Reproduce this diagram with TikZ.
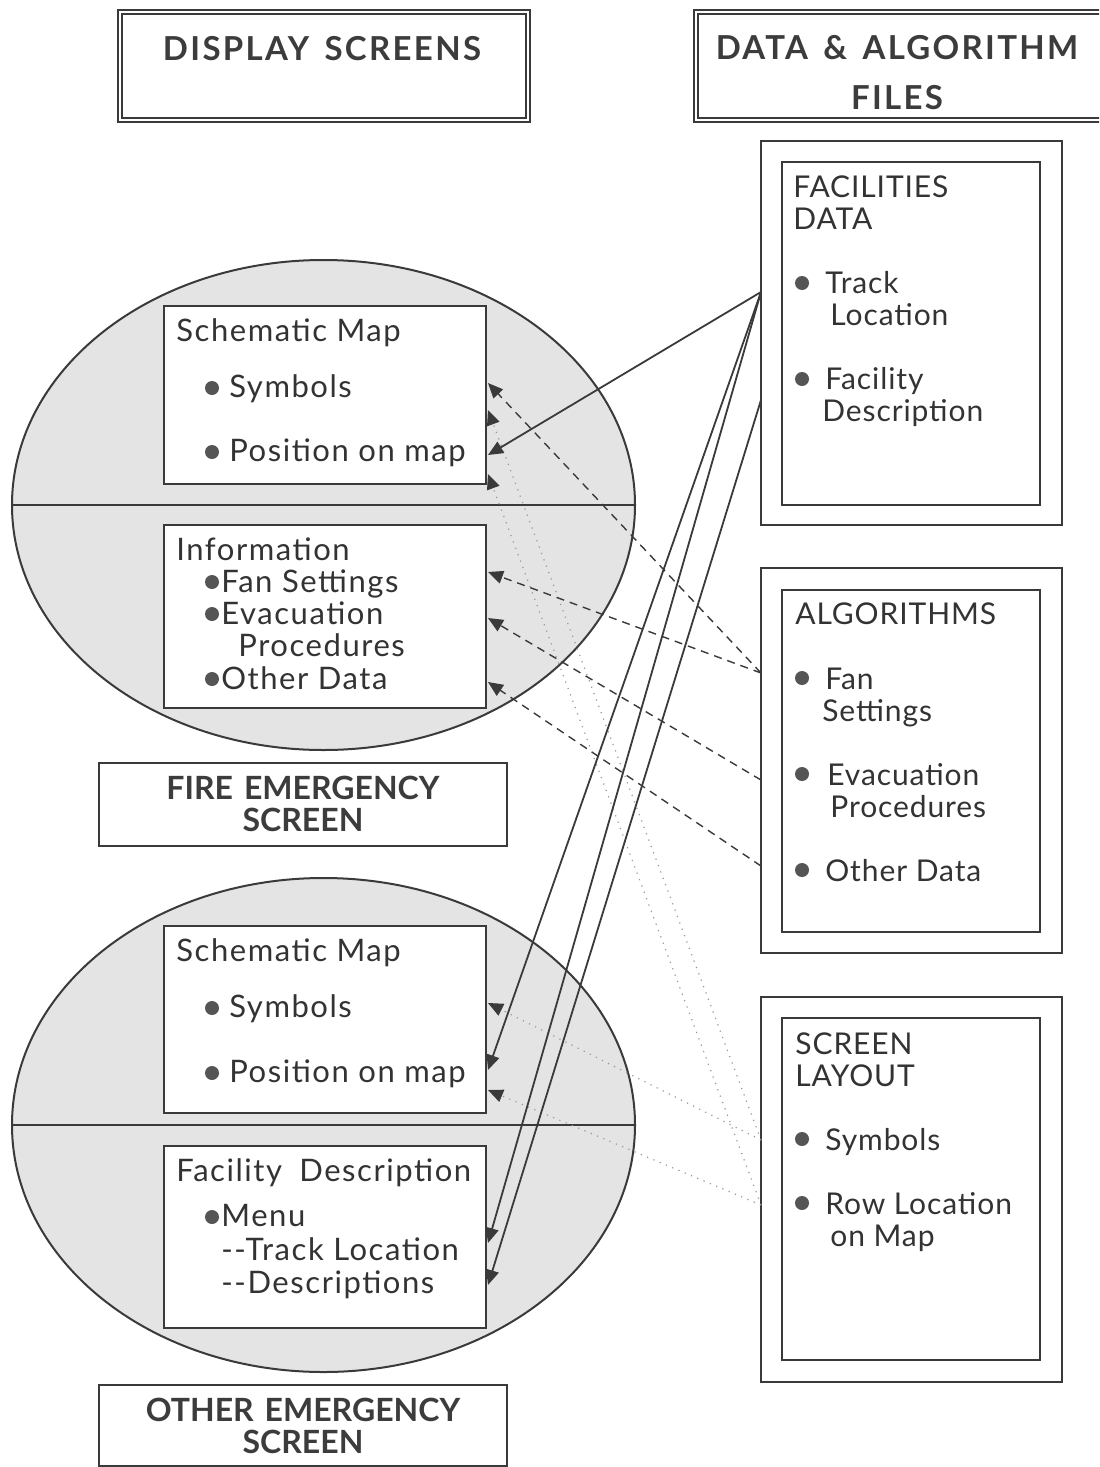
\documentclass[tikz,border=0pt]{standalone}
\usepackage{fontspec}
\setmainfont{Lato}[LetterSpace=3.0]
\newfontfamily\leftfont{Lato}[LetterSpace=5.0]
\newfontfamily\headfont{Lato}[LetterSpace=7.0]
\newfontfamily\subheadfont{Lato}[LetterSpace=0.0]
\usetikzlibrary{arrows.meta}
\definecolor{linec}{HTML}{3A3A3A}
\definecolor{textc}{HTML}{333333}
\definecolor{headc}{HTML}{3C3C3C}
\definecolor{ellf}{HTML}{E4E4E4}
\definecolor{dotc}{HTML}{999999}
\definecolor{bulc}{HTML}{555555}
\begin{document}
\begin{tikzpicture}[x=0.5pt,y=-0.5pt,
  bx/.style={draw=linec,line width=1pt},
  ibox/.style={draw=linec,line width=1pt,fill=white,rectangle,inner sep=0,minimum width=161pt},
  tx/.style={anchor=base west,inner sep=0,text=textc,font=\leftfont\fontsize{15.5}{18}\selectfont},
  rtx/.style={anchor=base west,inner sep=0,text=textc,font=\fontsize{15}{18}\selectfont},
  hd/.style={anchor=base,inner sep=0,text=headc,font=\headfont\fontsize{16.5}{18}\selectfont\bfseries},
  shd/.style={anchor=base,inner sep=0,text=headc,font=\subheadfont\fontsize{16}{18}\selectfont\bfseries},
  bul/.style={circle,fill=bulc,inner sep=0,minimum size=7pt},
  tip/.style={-{Triangle[length=7.5pt,width=6.5pt,color=linec]}},
  solidc/.style={tip,draw=linec,line width=0.9pt},
  dashc/.style={tip,draw=linec,line width=0.7pt,dash pattern=on 4pt off 3pt},
  dotc/.style={tip,draw=dotc,line width=0.6pt,dash pattern=on 0.6pt off 2.8pt}]
\useasboundingbox (0,0) rectangle (1099,1467);
\clip (0,0) rectangle (1099,1467);
\fill[white] (0,0) rectangle (1099,1467);

% header boxes
\draw[bx] (118,10) rectangle (530,122);
\draw[draw=linec,line width=0.6pt] (122,14) rectangle (526,118);
\node[hd] (hds) at (322,60) {DISPLAY\hspace{0.15em} SCREENS};
\draw[bx] (694,10) rectangle (1110,122);
\draw[draw=linec,line width=0.6pt] (698,14) rectangle (1106,118);
\node[hd] (hda1) at (897,59) {DATA\hspace{0.15em} \&\hspace{0.15em} ALGORITHM};
\node[hd] (hda2) at (897,109) {FILES};

% ellipses
\filldraw[fill=ellf,draw=linec,line width=1pt] (323.5,505) ellipse [x radius=311.5,y radius=245];
\draw[draw=linec,line width=1pt] (12,505) -- (635,505);
\filldraw[fill=ellf,draw=linec,line width=1pt] (323.5,1125) ellipse [x radius=311.5,y radius=247];
\draw[draw=linec,line width=1pt] (12,1125) -- (635,1125);

% inner boxes
\node[ibox,minimum height=89pt] (sm1) at (325,395) {};
\node[ibox,minimum height=91.5pt] (inf) at (325,616.5) {};
\node[ibox,minimum height=93.5pt] (sm2) at (325,1019.5) {};
\node[ibox,minimum height=91pt] (fdb) at (325,1237) {};

% upper schematic map
\node[tx] (t1) at (176,341) {Schematic Map};
\node[bul] (b1) at (212,388) {};
\node[tx] (t2) at (229,397) {Symbols};
\node[bul] (b2) at (212,452) {};
\node[tx] (t3) at (229,461) {Position on map};
% information
\node[tx] (t4) at (176,560) {Information};
\node[bul] (b3) at (212,582) {};
\node[tx] (t5) at (221,592) {Fan Settings};
\node[bul] (b4) at (212,614) {};
\node[tx] (t6) at (221,624) {Evacuation};
\node[tx] (t7) at (238,656) {Procedures};
\node[bul] (b5) at (212,679) {};
\node[tx] (t8) at (221,689) {Other Data};

% fire emergency
\draw[bx] (99,763) rectangle (507,846);
\node[shd] (fe1) at (303,799) {FIRE\hspace{0.1em} EMERGENCY};
\node[shd] (fe2) at (303,831) {SCREEN};

% lower schematic map
\node[tx] (t9) at (176,961) {Schematic Map};
\node[bul] (b6) at (212,1008) {};
\node[tx] (t10) at (229,1017) {Symbols};
\node[bul] (b7) at (212,1073) {};
\node[tx] (t11) at (229,1082) {Position on map};
% facility description
\node[tx] (t12) at (176,1181) {Facility\hspace{0.25em} Description};
\node[bul] (b8) at (212,1217) {};
\node[tx] (t13) at (221,1226) {Menu};
\node[tx] (t14) at (221,1260) {-{}-Track Location};
\node[tx] (t15) at (221,1293) {-{}-Descriptions};

% other emergency
\draw[bx] (99,1385) rectangle (507,1466);
\node[shd] (oe1) at (303,1421) {OTHER\hspace{0.1em} EMERGENCY};
\node[shd] (oe2) at (303,1453) {SCREEN};

% right boxes
\draw[bx] (761,141) rectangle (1062,525);
\draw[draw=linec,line width=0.8pt] (782,162) rectangle (1040,505);
\node[rtx] (r1) at (793,197) {FACILITIES};
\node[rtx] (r2) at (793,229) {DATA};
\node[bul] (rb1) at (802,283) {};
\node[rtx] (r3) at (825,293) {Track};
\node[rtx] (r4) at (830,325) {Location};
\node[bul] (rb2) at (802,379) {};
\node[rtx] (r5) at (825,389) {Facility};
\node[rtx] (r6) at (822,421) {Description};

\draw[bx] (761,568) rectangle (1062,953);
\draw[draw=linec,line width=0.8pt] (782,590) rectangle (1040,932);
\node[rtx] (r7) at (795,624) {ALGORITHMS};
\node[bul] (rb3) at (802,678) {};
\node[rtx] (r8) at (825,689) {Fan};
\node[rtx] (r9) at (822,721) {Settings};
\node[bul] (rb4) at (802,774) {};
\node[rtx] (r10) at (827,785) {Evacuation};
\node[rtx] (r11) at (830,817) {Procedures};
\node[bul] (rb5) at (802,870) {};
\node[rtx] (r12) at (825,881) {Other Data};

\draw[bx] (761,997) rectangle (1062,1382);
\draw[draw=linec,line width=0.8pt] (782,1018) rectangle (1040,1360);
\node[rtx] (r13) at (795,1054) {SCREEN};
\node[rtx] (r14) at (795,1086) {LAYOUT};
\node[bul] (rb6) at (802,1139) {};
\node[rtx] (r15) at (825,1150) {Symbols};
\node[bul] (rb7) at (802,1203) {};
\node[rtx] (r16) at (825,1214) {Row Location};
\node[rtx] (r17) at (830,1246) {on Map};

% connector endpoints
\coordinate (uSymA) at (488,383);
\coordinate (uSymB) at (488,410);
\coordinate (uPosA) at (488,455);
\coordinate (uPosB) at (488,474);
\coordinate (fan) at (488,572);
\coordinate (evac) at (488,618);
\coordinate (oth) at (488,682);
\coordinate (lSym) at (488,1003);
\coordinate (lPosA) at (488,1070);
\coordinate (lPosB) at (488,1090);
\coordinate (trk) at (488,1243);
\coordinate (dsc) at (488,1285);
\coordinate (fac1) at (761,292);
\coordinate (fac2) at (761,400);
\coordinate (alg1) at (761,673);
\coordinate (alg2) at (761,780);
\coordinate (alg3) at (761,866);
\coordinate (scr1) at (761,1140);
\coordinate (scr2) at (761,1205);

% connectors
\draw[dotc] (scr1) -- (uSymB);
\draw[dotc] (scr2) -- (uPosB);
\draw[dotc] (scr1) -- (lSym);
\draw[dotc] (scr2) -- (lPosB);
\draw[dashc] (alg1) -- (uSymA);
\draw[dashc] (alg1) -- (fan);
\draw[dashc] (alg2) -- (evac);
\draw[dashc] (alg3) -- (oth);
\draw[solidc] (fac1) -- (uPosA);
\draw[solidc] (fac1) -- (lPosA);
\draw[solidc] (fac1) -- (trk);
\draw[solidc] (fac2) -- (dsc);
\end{tikzpicture}
\end{document}
